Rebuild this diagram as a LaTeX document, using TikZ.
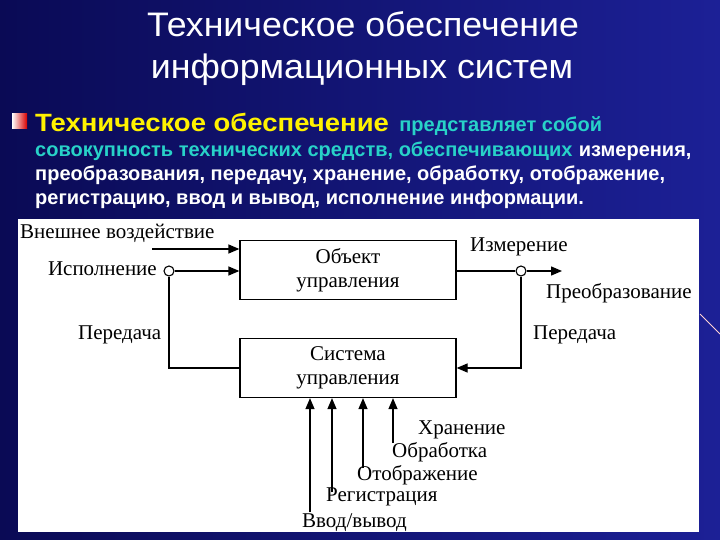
\documentclass[tikz,border=0pt]{standalone}
\usepackage{fontspec}
\usepackage{graphicx}
\setmainfont{Liberation Serif}
\newfontfamily\slidefont{Liberation Sans}
\usetikzlibrary{arrows.meta}
\definecolor{slidedark}{RGB}{10,10,85}
\definecolor{slidelight}{RGB}{28,32,150}
\definecolor{termcyan}{RGB}{40,210,200}
\newcommand{\widen}[2]{\scalebox{#1}[1]{#2}}
\tikzset{
  blk/.style={draw, line width=1.3pt, minimum width=216pt, minimum height=59pt,
    align=center, font=\fontsize{21}{24}\selectfont},
  lbl/.style={font=\fontsize{21}{24}\selectfont, inner sep=0pt},
  heading/.style={font=\slidefont\fontsize{34}{40}\selectfont, text=white, inner sep=0pt, anchor=base},
  bodytext/.style={font=\slidefont\bfseries\fontsize{20}{24}\selectfont, inner sep=0pt, anchor=base west},
  tap/.style={draw, line width=1.1pt, fill=white, circle, minimum size=10pt, inner sep=0pt},
  flow/.style={line width=1.3pt, -{Triangle[length=11pt, width=9pt]}},
  wire/.style={line width=1.3pt}
}
\begin{document}
\begin{tikzpicture}[x=1pt, y=-1pt]
  \useasboundingbox (0,0) rectangle (720,540);
  \shade[left color=slidedark, right color=slidelight] (0,0) rectangle (720,540);
  \draw[pink!70, line width=0.8pt] (700,314) -- (720,334);
  % title
  \node[heading] (title1) at (363,37) {\widen{1.05}{Техническое обеспечение}};
  \node[heading] (title2) at (362,79) {\widen{1.05}{информационных систем}};
  % bullet
  \shade[left color=white, right color=red!85!black] (12,114) rectangle (27,129);
  \node[bodytext, font=\slidefont\bfseries\fontsize{25}{28}\selectfont, text=yellow]
    (term) at (35,132) {\widen{1.1}{Техническое обеспечение}};
  \node[bodytext, text=termcyan] (defa) at ([xshift=10pt]term.base east) {представляет собой};
  \node[bodytext, text=termcyan] (defb) at (35,157) {совокупность технических средств, обеспечивающих};
  \node[bodytext, text=white] (defc) at ([xshift=6pt]defb.base east) {измерения,};
  \node[bodytext, text=white] (defd) at (35,181) {преобразования, передачу, хранение, обработку, отображение,};
  \node[bodytext, text=white] (defe) at (35,205) {регистрацию, ввод и вывод, исполнение информации.};
  % diagram
  \fill[white] (18,219) rectangle (699,532);
  \node[blk] (obj) at (348,270) {Объект\\управления};
  \node[blk] (sys) at (348,368) {Система\\управления};
  \node[tap] (exec) at (169,271) {};
  \node[tap] (meas) at (521,271) {};
  \coordinate (ext) at (152,249);
  \coordinate (out) at (562,271);
  \coordinate (lcorner) at (exec |- sys.west);
  \coordinate (rcorner) at (meas |- sys.east);
  \draw[flow] (ext) -- (ext -| obj.west);
  \draw[flow] (exec) -- (exec -| obj.west);
  \draw[wire] (obj.east |- meas) -- (meas);
  \draw[flow] (meas) -- (out);
  \draw[wire] (sys.west) -- (lcorner) -- (exec);
  \draw[flow] (meas) -- (rcorner) -- (sys.east);
  \node[lbl, anchor=west] (extlbl) at (20,233) {Внешнее воздействие};
  \node[lbl, anchor=east] (execlbl) at (157,269) {Исполнение};
  \node[lbl, anchor=west] (sendl) at (78,335) {Передача};
  \node[lbl, anchor=west] (measlbl) at (470,247) {Измерение};
  \node[lbl, anchor=west] (convlbl) at (546,293) {Преобразование};
  \node[lbl, anchor=west] (sendr) at (533,335) {Передача};
  % inputs of the control system
  \foreach \name/\x/\y in {io/310/512, reg/332/492, show/363/468, proc/393/443}
    \coordinate (\name) at (\x,\y);
  \foreach \name in {io, reg, show, proc}
    \draw[flow] (\name) -- (\name |- sys.south);
  \node[lbl, anchor=west] (storelbl) at (418,430) {Хранение};
  \node[lbl, anchor=west] (proclbl) at (392,452) {Обработка};
  \node[lbl, anchor=west] (showlbl) at (357,475) {Отображение};
  \node[lbl, anchor=west] (reglbl) at (326,497) {Регистрация};
  \node[lbl, anchor=west] (iolbl) at (302,523) {Ввод/вывод};
\end{tikzpicture}
\end{document}
